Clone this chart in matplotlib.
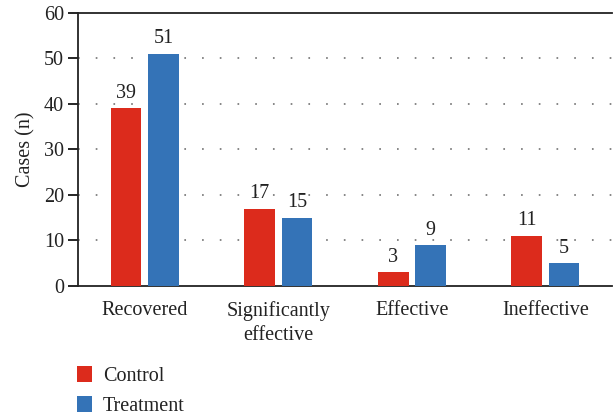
import matplotlib

matplotlib.use("Agg")
import matplotlib.pyplot as plt
import numpy as np

categories = ["Recovered", "Significantly\neffective", "Effective", "Ineffective"]
control = [39, 17, 3, 11]
treatment = [51, 15, 9, 5]
yticks = [0, 10, 20, 30, 40, 50, 60]

RED = "#dc2b1c"
BLUE = "#3473b7"

plt.rcParams["font.family"] = ["Liberation Serif", "DejaVu Serif"]
FS = 14.5

fig = plt.figure(figsize=(6.14, 4.15), dpi=100)
ax = fig.add_axes([0.127, 0.311, 0.870, 0.658])

x = np.arange(len(categories))
w = 0.23
off = 0.14
b1 = ax.bar(x - off, control, w, color=RED, label="Control", zorder=3)
b2 = ax.bar(x + off, treatment, w, color=BLUE, label="Treatment", zorder=3)

for bars in (b1, b2):
    for rect in bars:
        h = rect.get_height()
        ax.text(rect.get_x() + rect.get_width() / 2, h + 1.2, f"{h:g}",
                ha="center", va="bottom", fontsize=FS, color="#222222")

ax.set_xlim(-0.5, 3.5)
ax.set_ylim(0, 60)
ax.set_yticks(yticks)
ax.set_xticks(x)
ax.set_xticklabels(categories, fontsize=FS, color="#222222")
ax.tick_params(axis="x", length=0, pad=11)
ax.tick_params(axis="y", length=7, width=1.2, labelsize=FS, labelcolor="#222222", pad=3)
for t in ax.get_xticklabels():
    t.set_linespacing(1.35)

for v in yticks[1:-1]:
    ax.axhline(v, color="#666666", linestyle=(0, (1.1, 10.5)), linewidth=1.1, zorder=1)

ax.spines["right"].set_visible(False)
for s in ("left", "top", "bottom"):
    ax.spines[s].set_linewidth(1.3)
    ax.spines[s].set_color("#222222")

ax.set_ylabel("Cases (n)", fontsize=FS, color="#222222", labelpad=6)

fig.legend(handles=[b1, b2], loc="upper left", bbox_to_anchor=(0.125, 0.118),
           frameon=False, fontsize=FS, handlelength=0.75, handleheight=0.85,
           handletextpad=0.55, labelspacing=0.5, borderaxespad=0, borderpad=0)
for t in fig.legends[0].get_texts():
    t.set_color("#222222")

fig.savefig("out.png", dpi=100)
